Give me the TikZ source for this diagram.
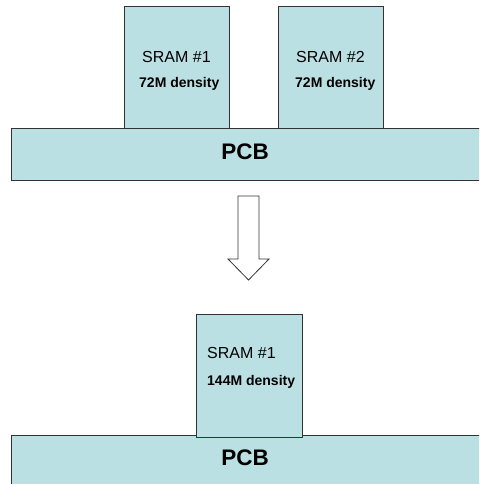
\documentclass[tikz,border=0pt]{standalone}
\usepackage{fontspec}
\setmainfont{Liberation Sans}
\usetikzlibrary{positioning}
\definecolor{chipblue}{RGB}{187,224,227}
\tikzset{
  part/.style={draw=black!80,fill=chipblue,line width=0.8pt},
  chiptitle/.style={font=\fontsize{16}{19}\selectfont,anchor=base west,inner sep=0pt},
  chipdens/.style={font=\bfseries\fontsize{14}{17}\selectfont,anchor=base west,inner sep=0pt},
  pcbtext/.style={font=\bfseries\fontsize{22.5}{27}\selectfont,anchor=base,inner sep=0pt}
}
\begin{document}
\begin{tikzpicture}[x=1pt,y=-1pt]
\useasboundingbox (0,0) rectangle (479,484);
\clip (0,0) rectangle (479,484);
\draw[part] (124,6) rectangle (229,128);
\draw[part] (278,6) rectangle (383,128);
\draw[part] (11,128) rectangle (495,180);
\node[chiptitle] (titleA) at (142,62.5) {SRAM \#1};
\node[chipdens] (densA) at (139,88) {72M density};
\node[chiptitle] (titleB) at (296,62.5) {SRAM \#2};
\node[chipdens] (densB) at (295,88) {72M density};
\node[pcbtext] (pcbA) at (245,159) {PCB};
\draw[draw=black!80,fill=white,line width=0.8pt] (238,196) -- (259,196) -- (259,259) -- (269,259) -- (248.5,280) -- (228,259) -- (238,259) -- cycle;
\draw[part] (11,435) rectangle (495,500);
\draw[part] (196,314) rectangle (302,437);
\node[chiptitle] (titleC) at (207,358) {SRAM \#1};
\node[chipdens] (densC) at (207,385) {144M density};
\node[pcbtext] (pcbC) at (245,465) {PCB};
\end{tikzpicture}
\end{document}
